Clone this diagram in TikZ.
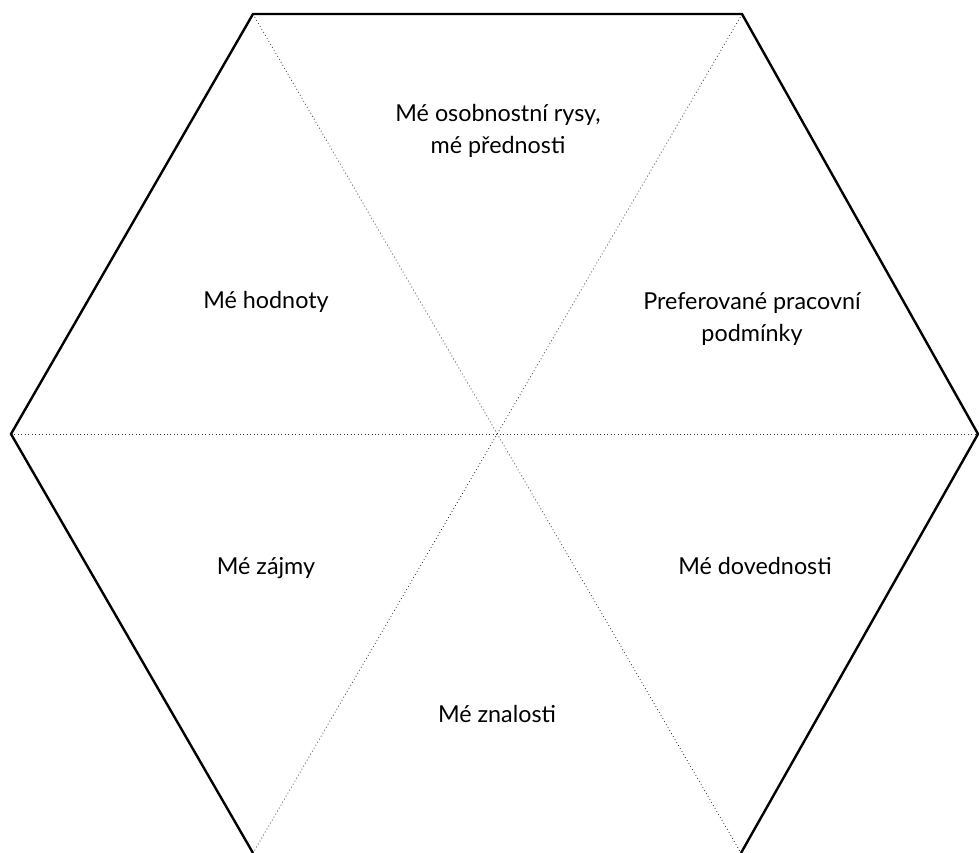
\documentclass[tikz,border=0pt]{standalone}
\usepackage{fontspec}
\setmainfont{Lato}
\begin{document}
\begin{tikzpicture}[x=0.75pt,y=-0.75pt,
  edge/.style={line width=1.8pt,line join=miter},
  spoke/.style={line width=0.6pt,dotted,black!80},
  lbl/.style={align=center,font=\fontsize{17.5}{24}\selectfont,inner sep=0pt,anchor=base}]
\useasboundingbox (0,0) rectangle (979,853);
\coordinate (tl) at (253,14);
\coordinate (tr) at (742,14);
\coordinate (r) at (978,434);
\coordinate (br) at (741,853);
\coordinate (bl) at (253,853);
\coordinate (l) at (11,434);
\coordinate (c) at (497,434);
\draw[spoke] (tl) -- (br);
\draw[spoke] (tr) -- (bl);
\draw[spoke] (l) -- (r);
\draw[edge] (bl) -- (l) -- (tl) -- (tr) -- (r) -- (br);
\node[lbl] (a) at (498,153) {Mé osobnostní rysy,\\mé přednosti};
\node[lbl] (b) at (266,308) {Mé hodnoty};
\node[lbl] (p) at (752,341) {Preferované pracovní\\podmínky};
\node[lbl] (z) at (266,574) {Mé zájmy};
\node[lbl] (d) at (755,574) {Mé dovednosti};
\node[lbl] (n) at (497,722) {Mé znalosti};
\end{tikzpicture}
\end{document}
